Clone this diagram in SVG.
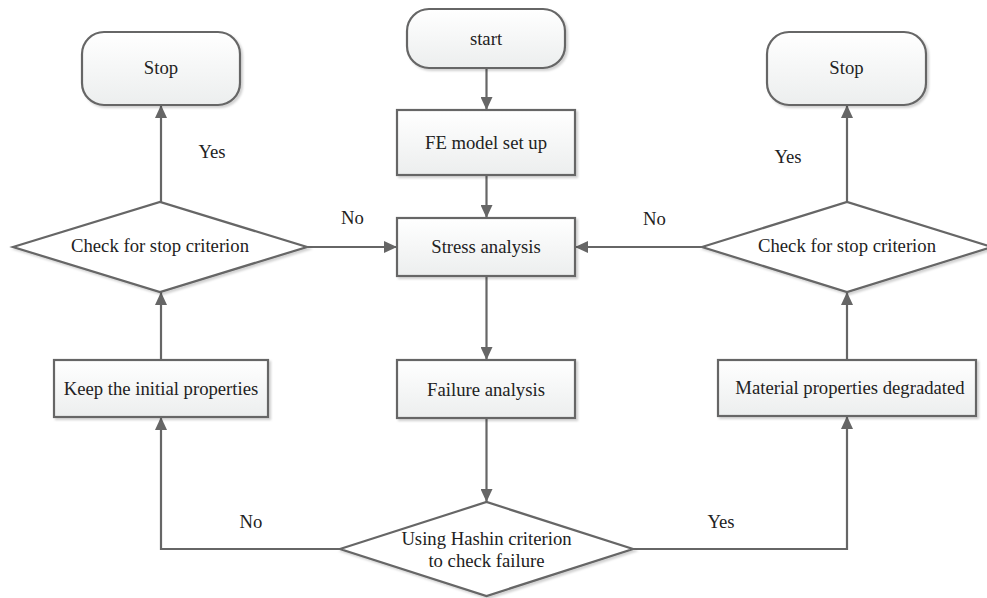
<svg xmlns="http://www.w3.org/2000/svg" width="987" height="598" viewBox="0 0 987 598">
  <defs>
    <linearGradient id="boxfill" x1="0" y1="0" x2="0" y2="1">
      <stop offset="0" stop-color="#ffffff"/>
      <stop offset="1" stop-color="#eceeee"/>
    </linearGradient>
    <filter id="shadow" x="-5%" y="-10%" width="115%" height="130%">
      <feDropShadow dx="2" dy="2" stdDeviation="1" flood-color="#000" flood-opacity="0.18"/>
    </filter>
    <marker id="arrow" markerUnits="userSpaceOnUse" markerWidth="14" markerHeight="12" viewBox="0 0 14 12" refX="13" refY="6" orient="auto">
      <path d="M0,0 L13,6 L0,12 Z" fill="#666666"/>
    </marker>
  </defs>
  <style>
    .box { fill: url(#boxfill); stroke: #666666; stroke-width: 2.2; filter: url(#shadow); }
    .dia { fill: #ffffff; stroke: #666666; stroke-width: 2.2; filter: url(#shadow); }
    .lbl { font-family: "Liberation Serif", "Times New Roman", serif; font-size: 18.7px; fill: #222222; text-anchor: middle; }
    .conn { fill: none; stroke: #666666; stroke-width: 2.2; marker-end: url(#arrow); }
  </style>

  <g id="connectors">
    <path class="conn" d="M486.5,68 V110"/>
    <path class="conn" d="M486.5,175 V218"/>
    <path class="conn" d="M486.5,276 V360"/>
    <path class="conn" d="M486.5,418 V502"/>
    <path class="conn" d="M340,549 H161 V417"/>
    <path class="conn" d="M633,549 H847 V416"/>
    <path class="conn" d="M161,360 V292"/>
    <path class="conn" d="M847,360 V292"/>
    <path class="conn" d="M161,202 V105"/>
    <path class="conn" d="M847,202 V105"/>
    <path class="conn" d="M307,247 H397"/>
    <path class="conn" d="M702,247 H575"/>
  </g>

  <g id="start">
    <rect class="box" x="407" y="9" width="158" height="59" rx="22" ry="22"/>
    <text class="lbl" x="486" y="45">start</text>
  </g>
  <g id="fe-model">
    <rect class="box" x="397" y="110" width="178" height="65"/>
    <text class="lbl" x="486" y="149">FE model set up</text>
  </g>
  <g id="stress">
    <rect class="box" x="397" y="218" width="178" height="58"/>
    <text class="lbl" x="486" y="253">Stress analysis</text>
  </g>
  <g id="failure">
    <rect class="box" x="397" y="360" width="178" height="58"/>
    <text class="lbl" x="486" y="396">Failure analysis</text>
  </g>
  <g id="hashin">
    <polygon class="dia" points="340,549 486.5,502 633,549 486.5,596"/>
    <text class="lbl" x="486.5" y="545">Using Hashin criterion</text>
    <text class="lbl" x="486.5" y="567">to check failure</text>
  </g>
  <g id="keep">
    <rect class="box" x="54" y="360" width="214" height="57"/>
    <text class="lbl" x="161" y="395">Keep the initial properties</text>
  </g>
  <g id="material">
    <rect class="box" x="718" y="360" width="258" height="56"/>
    <text class="lbl" x="850" y="394">Material properties degradated</text>
  </g>
  <g id="check-left">
    <polygon class="dia" points="13,247 160,202 307,247 160,292"/>
    <text class="lbl" x="160" y="252">Check for stop criterion</text>
  </g>
  <g id="check-right">
    <polygon class="dia" points="702,247 847,202 992,247 847,292"/>
    <text class="lbl" x="847" y="252">Check for stop criterion</text>
  </g>
  <g id="stop-left">
    <rect class="box" x="82" y="32" width="158" height="73" rx="22" ry="22"/>
    <text class="lbl" x="161" y="74">Stop</text>
  </g>
  <g id="stop-right">
    <rect class="box" x="767" y="32" width="159" height="73" rx="22" ry="22"/>
    <text class="lbl" x="846.5" y="74">Stop</text>
  </g>

  <g id="labels">
    <text class="lbl" x="212" y="158">Yes</text>
    <text class="lbl" x="788" y="163">Yes</text>
    <text class="lbl" x="352.5" y="224">No</text>
    <text class="lbl" x="654.5" y="225">No</text>
    <text class="lbl" x="251" y="528">No</text>
    <text class="lbl" x="721" y="528">Yes</text>
  </g>
</svg>
